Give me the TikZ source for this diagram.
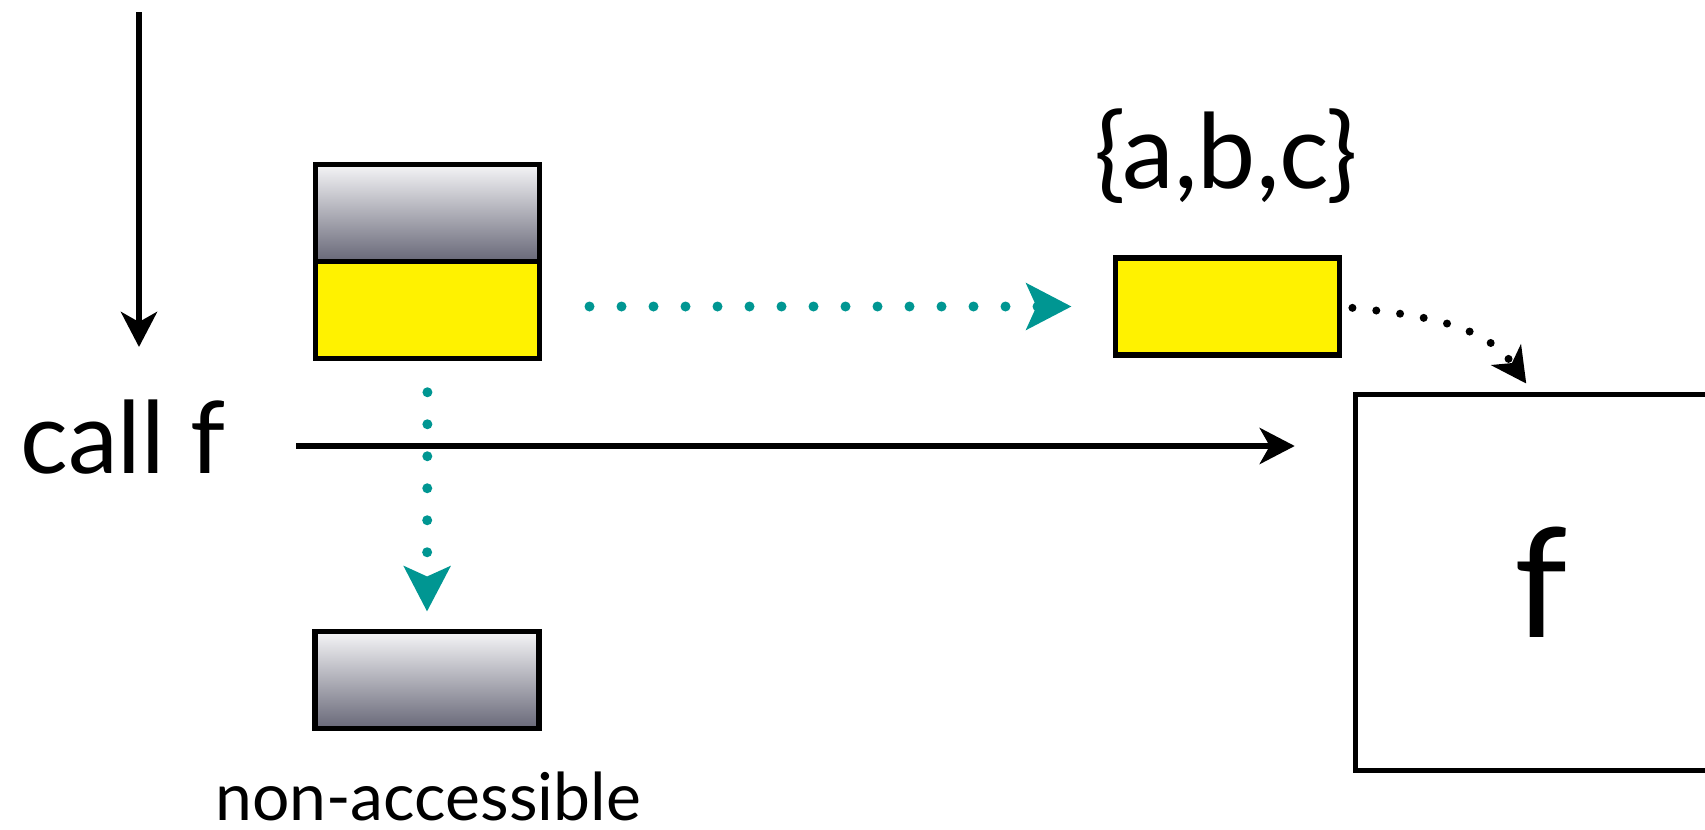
\documentclass[tikz,border=0pt]{standalone}
\usepackage{fontspec}
\setmainfont{Lato}
\usetikzlibrary{positioning,arrows.meta}
\definecolor{linkteal}{RGB}{0,150,146}
\definecolor{slottop}{RGB}{245,245,247}
\definecolor{slotbot}{RGB}{104,104,120}

\begin{document}
\begin{tikzpicture}[
    x=0.5pt,y=-0.5pt,
    slot/.style={draw,line width=2.75pt,inner sep=0pt,outer sep=0pt,minimum width=112pt,minimum height=48.5pt},
    greyslot/.style={slot,top color=slottop,bottom color=slotbot},
    yellowslot/.style={slot,fill=yellow},
    arr/.style={-{Stealth[length=17.5pt,width=18pt,inset=5pt]},line width=3pt},
    link/.style={-{Stealth[length=22.5pt,width=23pt,inset=5pt]},linkteal,line width=5pt,line cap=round,dash pattern=on 0pt off 16pt},
    pass/.style={-{Stealth[length=17.5pt,width=18pt,inset=5pt]},line width=4pt,line cap=round,dash pattern=on 0pt off 12pt}
  ]
  \useasboundingbox (0,0) rectangle (1705,830);
  \node[greyslot] (frame) at (427.5,212.75) {};
  \node[yellowslot,below=0pt of frame] (env) {};
  \node[yellowslot] (copy) at (1227.5,306.5) {};
  \node[anchor=base,inner sep=0pt,font=\fontsize{52}{62}\selectfont] (vars) at (1226,188) {\{a,b,c\}};
  \node[greyslot] (lost) at (427,680) {};
  \node[anchor=base,inner sep=0pt,font=\fontsize{33}{40}\selectfont] (lostlbl) at (428,820) {non-accessible};
  \node[draw,line width=2.75pt,minimum width=185.5pt,minimum height=188pt,font=\fontsize{76}{90}\selectfont] (func) at (1541,582.5) {f};
  \node[anchor=base west,inner sep=0pt,font=\fontsize{50}{60}\selectfont] (call) at (20,473) {call f};
  \coordinate (flowtop) at (139,12);
  \coordinate (flowend) at (139,347);

  \draw[arr] (flowtop) -- (flowend);
  \draw[arr,shorten <=35pt,shorten >=29pt] (call.east |- 0,446) -- (func.west |- 0,446);
  \draw[link,shorten <=25pt,shorten >=22pt] (env.east |- copy) -- (copy.west);
  \draw[link,shorten <=17pt,shorten >=10pt] (env.south) -- (lost.north);
  \draw[pass,shorten <=6.5pt,shorten >=5pt] (copy.east) to[out=-6,in=125] ([xshift=-4.5pt]func.north);
\end{tikzpicture}
\end{document}
